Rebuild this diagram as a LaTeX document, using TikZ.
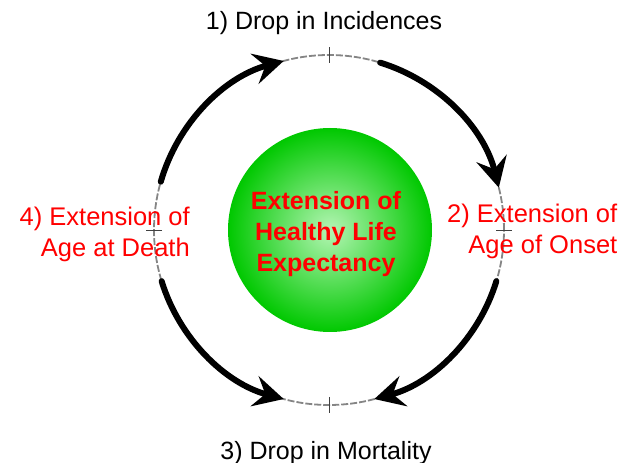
\documentclass[tikz,border=0pt]{standalone}
\usepackage{fontspec}
\setmainfont{Liberation Sans}
\usepackage{xcolor}
\usetikzlibrary{calc,arrows.meta}
\definecolor{ringgray}{HTML}{858585}
\definecolor{ballin}{HTML}{B4F5B4}
\definecolor{ballout}{HTML}{00C800}
\definecolor{hot}{HTML}{FF0000}
\tikzset{
  ring/.style={draw=ringgray, line width=1.8pt, dash pattern=on 7pt off 2pt},
  tick/.style={draw=black!75, line width=0.7pt},
  flow/.style={draw=black, line width=6pt, line cap=round,
    -{Stealth[length=30pt,width=31pt,inset=11pt]}},
  ball/.style={circle, minimum size=204pt, inner sep=0pt,
    inner color=ballin, outer color=ballout},
  lab/.style={inner sep=0pt, font=\fontsize{25}{31}\selectfont},
  labred/.style={lab, text=hot, align=right, font=\fontsize{25.5}{31}\selectfont},
  core/.style={inner sep=0pt, text=hot, align=center,
    font=\bfseries\fontsize{25}{31}\selectfont}
}

\begin{document}
\begin{tikzpicture}[x=1pt,y=1pt]
  \useasboundingbox (0,0) rectangle (632,463);
  \def\r{175}
  \coordinate (O) at (329,233);

  \node[ball] (core) at (330,233) {};
  \node[core] (coretext) at (326,229) {Extension of\\Healthy Life\\Expectancy};

  \draw[ring] (O) circle (\r);
  \foreach \a in {0,90,180,270}
    \draw[tick] ($(O)+(\a:\r-8)$) -- ($(O)+(\a:\r+8)$);

  % the four steps of the cycle
  \draw[flow] ($(O)+(164:\r)$) arc[start angle=164, end angle=105, radius=\r];
  \draw[flow] ($(O)+(73:\r)$) arc[start angle=73, end angle=14, radius=\r];
  \draw[flow] ($(O)+(-17:\r)$) arc[start angle=-17, end angle=-75, radius=\r];
  \draw[flow] ($(O)+(197:\r)$) arc[start angle=197, end angle=255, radius=\r];

  \node[lab, anchor=base] (incid) at (324,433) {1) Drop in Incidences};
  \node[labred, anchor=west] (onset) at (447,232) {2) Extension of\\Age of Onset};
  \node[lab, anchor=base] (mort) at (326,3) {3) Drop in Mortality};
  \node[labred, anchor=east] (death) at (190,229) {4) Extension of\\Age at Death};
\end{tikzpicture}
\end{document}
